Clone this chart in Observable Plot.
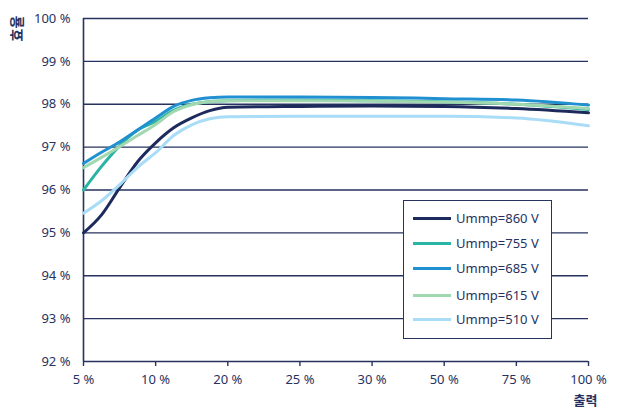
<!DOCTYPE html>
<html>
<head>
<meta charset="utf-8">
<script src="https://cdn.jsdelivr.net/npm/d3@7"></script>
<script src="https://cdn.jsdelivr.net/npm/@observablehq/plot@0.6"></script>
<style>
  html, body { margin: 0; padding: 0; background: #fff; }
  #wrap { position: relative; width: 620px; height: 408px; font-family: "Noto Sans", "Noto Sans CJK KR", sans-serif; }
  #legend { position: absolute; left: 403px; top: 200px; width: 149px; height: 139px; border: 1px solid #27325f; background: #fff; box-sizing: border-box; }
  .item { position: absolute; left: 9px; height: 18px; display: flex; align-items: center; font-size: 13px; color: #27325f; }
  .sw { width: 38px; height: 3px; margin-right: 5px; }
</style>
</head>
<body>
<div id="wrap"><div id="legend"></div></div>
<script>
const categories = ["5 %", "10 %", "20 %", "25 %", "30 %", "50 %", "75 %", "100 %"];
const samplePos = [0, 0.25, 0.5, 0.75, 1, 1.25, 1.5, 1.75, 2, 3, 4, 5, 6, 7];
const s860 = [95.0, 95.42, 96.05, 96.66, 97.1, 97.45, 97.68, 97.85, 97.93, 97.95, 97.96, 97.95, 97.9, 97.8];
const s755 = [96.0, 96.55, 97.03, 97.4, 97.6, 97.86, 98.0, 98.06, 98.08, 98.1, 98.08, 98.06, 98.0, 97.88];
const s685 = [96.62, 96.88, 97.12, 97.4, 97.68, 97.95, 98.09, 98.15, 98.17, 98.17, 98.16, 98.13, 98.1, 97.98];
const s615 = [96.52, 96.76, 97.01, 97.27, 97.53, 97.83, 97.99, 98.06, 98.08, 98.08, 98.07, 98.05, 98.0, 97.9];
const s510 = [95.46, 95.75, 96.12, 96.53, 96.87, 97.27, 97.52, 97.66, 97.71, 97.72, 97.72, 97.72, 97.68, 97.5];
const seriesNames = ["Ummp=860 V", "Ummp=755 V", "Ummp=685 V", "Ummp=615 V", "Ummp=510 V"];
const seriesValues = [s860, s755, s685, s615, s510];
const colors = ["#1c2a5c", "#2ab4a6", "#2190d0", "#a2d8b0", "#a9dcf6"];
const yTicks = [92, 93, 94, 95, 96, 97, 98, 99, 100];
const yTitle = "효율";
const xTitle = "출력";

const navy = "#27325f";
const data = seriesNames.flatMap((name, k) =>
  seriesValues[k].map((v, i) => ({series: name, x: samplePos[i], y: v})));

const chart = Plot.plot({
  width: 620, height: 408,
  marginLeft: 83, marginRight: 32, marginTop: 18, marginBottom: 47,
  style: {fontFamily: '"Noto Sans", "Noto Sans CJK KR", sans-serif', fontSize: "13px", color: navy, background: "#fff"},
  x: {domain: [0, categories.length - 1]},
  y: {domain: [92, 100]},
  color: {domain: seriesNames, range: colors},
  marks: [
    Plot.ruleY(yTicks, {stroke: navy, strokeWidth: 1.4}),
    Plot.ruleX([0], {stroke: navy, strokeWidth: 1.6}),
    Plot.axisX({ticks: d3.range(categories.length), tickFormat: i => categories[i], tickSize: 5, tickPadding: 8, stroke: navy, strokeWidth: 1.4, label: null}),
    Plot.axisY({ticks: yTicks, tickFormat: d => d + " %", tickSize: 0, tickPadding: 13, label: null}),
    Plot.line(data, {x: "x", y: "y", z: "series", stroke: "series", strokeWidth: 3, curve: "monotone-x"}),
    Plot.text([yTitle], {frameAnchor: "top-left", text: d => d, rotate: -90, textAnchor: "middle", lineAnchor: "middle", dx: -66, dy: 10, fontWeight: "bold", fontSize: 14, fill: navy}),
    Plot.text([xTitle], {frameAnchor: "bottom-right", text: d => d, textAnchor: "end", lineAnchor: "bottom", dx: 9, dy: 43, fontWeight: "bold", fontSize: 13, fill: navy})
  ]
});
document.getElementById("wrap").prepend(chart);

const legend = document.getElementById("legend");
const legendTops = [8, 33, 58, 85, 109];
seriesNames.forEach((name, k) => {
  const it = document.createElement("div");
  it.className = "item";
  it.style.top = legendTops[k] + "px";
  const sw = document.createElement("div");
  sw.className = "sw";
  sw.style.background = colors[k];
  it.appendChild(sw);
  it.appendChild(document.createTextNode(name));
  legend.appendChild(it);
});
</script>
</body>
</html>
